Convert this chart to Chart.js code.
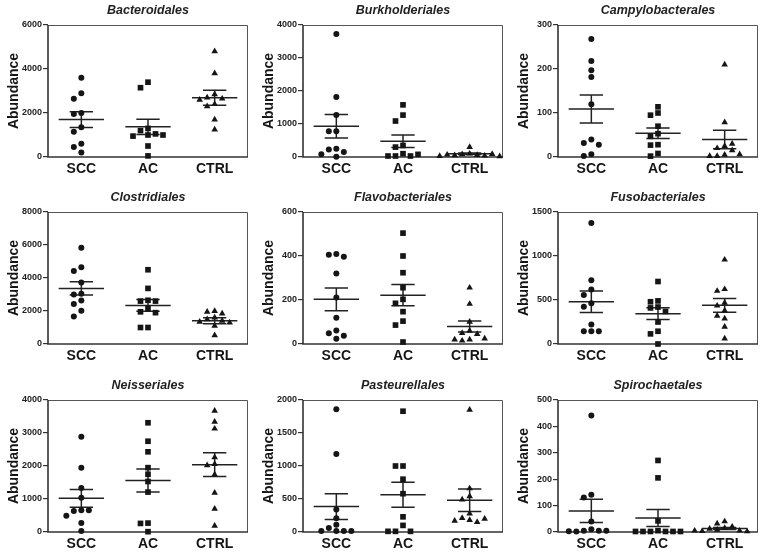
<!DOCTYPE html>
<html>
<head>
<meta charset="utf-8">
<script src="https://cdn.jsdelivr.net/npm/chart.js@4.4.1/dist/chart.umd.min.js"></script>
<style>
  html, body { margin: 0; padding: 0; background: #ffffff; }
  #wrap { position: relative; width: 766px; height: 556px; overflow: hidden; }
  .panel { position: absolute; width: 255px; height: 181px; }
</style>
</head>
<body>
<div id="wrap"></div>
<script>
// ---- categories & panel labels ----
const categories = ['SCC', 'AC', 'CTRL'];
const panelTitles = ['Bacteroidales', 'Burkholderiales', 'Campylobacterales',
                     'Clostridiales', 'Flavobacteriales', 'Fusobacteriales',
                     'Neisseriales', 'Pasteurellales', 'Spirochaetales'];
const yAxisTitle = 'Abundance';
const yMaxValues  = [6000, 4000, 300, 8000, 600, 1500, 4000, 2000, 500];
const yStepValues = [2000, 1000, 100, 2000, 200, 500, 1000, 500, 100];

// ---- individual values per group [SCC, AC, CTRL] ----
const bacteroidales = [
  [3600, 2900, 2650, 2000, 1950, 1350, 1150, 600, 450, 200],
  [3400, 3150, 1300, 1200, 1050, 1000, 950, 1000, 500, 50],
  [4800, 3800, 2850, 2700, 2650, 2600, 2400, 2300, 1700, 1250]
];
const burkholderiales = [
  [3730, 1820, 1270, 780, 780, 250, 230, 150, 10, 80],
  [1580, 1270, 1090, 350, 300, 100, 30, 30, 30, 80],
  [300, 100, 80, 60, 50, 40, 70, 90, 30, 20]
];
const campylobacterales = [
  [268, 218, 197, 182, 120, 40, 32, 28, 6, 2],
  [114, 100, 95, 70, 53, 47, 28, 27, 8, 2],
  [210, 79, 25, 20, 15, 30, 5, 2, 2, 6]
];
const clostridiales = [
  [5840, 4650, 4420, 3720, 3050, 3000, 2630, 2420, 2020, 1660],
  [4500, 3370, 2650, 2600, 2600, 2150, 1950, 1900, 1000, 1000],
  [2000, 1950, 1850, 1600, 1500, 1400, 1350, 1300, 1100, 520]
];
const flavobacteriales = [
  [409, 406, 397, 321, 211, 119, 61, 49, 37, 24],
  [504, 400, 324, 256, 203, 185, 147, 104, 86, 9],
  [256, 182, 101, 60, 50, 45, 20, 15, 20, 25]
];
const fusobacteriales = [
  [1374, 725, 618, 557, 462, 424, 221, 145, 145, 145],
  [710, 490, 480, 420, 410, 370, 250, 145, 115, 0],
  [958, 623, 603, 469, 435, 380, 320, 290, 195, 61]
];
const neisseriales = [
  [2890, 1950, 1330, 1040, 660, 640, 660, 490, 270, 30],
  [3310, 2750, 2430, 1950, 1750, 1530, 1210, 270, 260, 10],
  [3670, 3340, 3130, 2260, 2060, 2020, 1740, 1190, 700, 190]
];
const pasteurellales = [
  [1860, 1180, 340, 210, 110, 60, 15, 15, 15, 15],
  [1830, 1000, 1000, 800, 580, 230, 100, 10, 10, 10],
  [1850, 660, 540, 490, 280, 210, 180, 150, 170, 200]
];
const spirochaetales = [
  [441, 141, 131, 40, 10, 5, 5, 2, 5, 3],
  [271, 205, 42, 5, 2, 2, 2, 2, 2, 2],
  [40, 32, 20, 15, 12, 8, 5, 3, 2, 5]
];

// ---- mean and SEM [SCC, AC, CTRL] ----
const meanValues = [
  [1700, 1370, 2690], [930, 480, 100], [109, 54, 40],
  [3370, 2340, 1410], [203, 222, 79], [481, 345, 440],
  [1020, 1560, 2040], [385, 565, 480], [80, 53, 13]
];
const semValues = [
  [360, 350, 340], [355, 190, 25], [32, 12, 21],
  [400, 350, 180], [52, 48, 25], [122, 68, 78],
  [270, 350, 360], [195, 190, 170], [44, 32, 4]
];

const panelData = [bacteroidales, burkholderiales, campylobacterales,
                   clostridiales, flavobacteriales, fusobacteriales,
                   neisseriales, pasteurellales, spirochaetales];

// ---- styling / layout ----
const FONT = '"Liberation Sans", Arial, Helvetica, sans-serif';
const INK = '#151515';
const AXIS = '#333333';
const markerStyles = ['circle', 'rect', 'triangle'];
const markerRadius = [3, 4, 3.8];
const PLOT_W = 200, PLOT_H = 132;
const colLeft = [0, 255, 510];
const rowTop = [0, 187, 375];

// simple beeswarm offsets (in x units) so that markers do not overlap
function swarmOffsets(values, yMax) {
  const pxPerUnitY = PLOT_H / yMax;
  const unitPerPxX = 3 / PLOT_W;
  const placed = [];
  const step = 7.5, minDist = 6.0;
  return values.map(v => {
    const y = v * pxPerUnitY;
    for (let i = 0; i < 40; i++) {
      const k = Math.ceil(i / 2);
      const off = i === 0 ? 0 : (i % 2 ? -k : k) * step;
      if (placed.every(p => (p.x - off) ** 2 + (p.y - y) ** 2 >= minDist * minDist)) {
        placed.push({ x: off, y });
        return off * unitPerPxX;
      }
    }
    return 0;
  });
}

const framePlugin = {
  id: 'frame',
  beforeDatasetsDraw(chart) {
    const { ctx, chartArea: a } = chart;
    ctx.save();
    ctx.strokeStyle = '#555555';
    ctx.lineWidth = 1;
    ctx.beginPath();
    ctx.moveTo(a.left, a.top + 0.5);
    ctx.lineTo(a.right - 0.5, a.top + 0.5);
    ctx.lineTo(a.right - 0.5, a.bottom);
    ctx.stroke();
    ctx.strokeStyle = AXIS;
    ctx.lineWidth = 1.6;
    ctx.beginPath();
    ctx.moveTo(a.left, a.top);
    ctx.lineTo(a.left, a.bottom);
    ctx.lineTo(a.right, a.bottom);
    ctx.stroke();
    ctx.restore();
  }
};

const wrap = document.getElementById('wrap');
panelData.forEach((groups, p) => {
  const row = Math.floor(p / 3), col = p % 3;
  const div = document.createElement('div');
  div.className = 'panel';
  div.style.left = colLeft[col] + 'px';
  div.style.top = rowTop[row] + 'px';
  const canvas = document.createElement('canvas');
  canvas.width = 255; canvas.height = 181;
  div.appendChild(canvas);
  wrap.appendChild(div);

  const datasets = [];
  groups.forEach((vals, g) => {
    const offs = swarmOffsets(vals, yMaxValues[p]);
    datasets.push({
      data: vals.map((v, i) => ({ x: g + offs[i], y: v })),
      pointStyle: markerStyles[g],
      pointRadius: markerRadius[g],
      pointBackgroundColor: INK,
      pointBorderColor: INK,
      pointBorderWidth: 0,
      showLine: false,
      clip: false
    });
  });
  groups.forEach((vals, g) => {
    const m = meanValues[p][g], s = semValues[p][g];
    const hw = 0.34, ww = 0.175;
    datasets.push({
      data: [
        { x: g - ww, y: m + s }, { x: g + ww, y: m + s }, { x: g, y: null },
        { x: g, y: m + s }, { x: g, y: m - s }, { x: g, y: null },
        { x: g - ww, y: m - s }, { x: g + ww, y: m - s }, { x: g, y: null },
        { x: g - hw, y: m }, { x: g + hw, y: m }
      ],
      showLine: true,
      spanGaps: false,
      borderColor: '#222222',
      borderWidth: 1.5,
      pointRadius: 0,
      fill: false,
      clip: false
    });
  });

  new Chart(canvas, {
    type: 'scatter',
    data: { datasets },
    plugins: [framePlugin],
    options: {
      responsive: false,
      animation: false,
      devicePixelRatio: 1,
      layout: { padding: { left: 0, right: 7, top: 0, bottom: 0 } },
      plugins: {
        legend: { display: false },
        tooltip: { enabled: false },
        title: {
          display: true,
          text: panelTitles[p],
          fullSize: false,
          color: '#222222',
          font: { family: FONT, size: 12.5, weight: 'bold', style: 'italic', lineHeight: 1.2 },
          padding: { top: 3, bottom: 7 }
        }
      },
      scales: {
        x: {
          type: 'linear',
          min: -0.5, max: 2.5,
          afterFit(scale) { scale.height = 24; },
          afterBuildTicks(scale) { scale.ticks = categories.map((c, i) => ({ value: i })); },
          grid: { display: false, drawTicks: false },
          border: { display: false },
          ticks: {
            autoSkip: false,
            maxRotation: 0,
            padding: 4,
            color: INK,
            font: { family: FONT, size: 14, weight: 'bold' },
            callback: v => categories[Math.round(v)] || ''
          }
        },
        y: {
          min: 0, max: yMaxValues[p],
          afterFit(scale) { scale.width = 48; },
          grid: { display: true, drawOnChartArea: false, drawTicks: true, tickLength: 5, color: AXIS, lineWidth: 1.2 },
          border: { display: false },
          ticks: {
            stepSize: yStepValues[p],
            padding: 1,
            color: '#222222',
            font: { family: FONT, size: 9, weight: 'bold' },
            callback: v => String(v)
          },
          title: {
            display: true,
            text: yAxisTitle,
            color: INK,
            font: { family: FONT, size: 14, weight: 'bold' },
            padding: { top: 6, bottom: 0 }
          }
        }
      }
    }
  });
});
</script>
</body>
</html>
